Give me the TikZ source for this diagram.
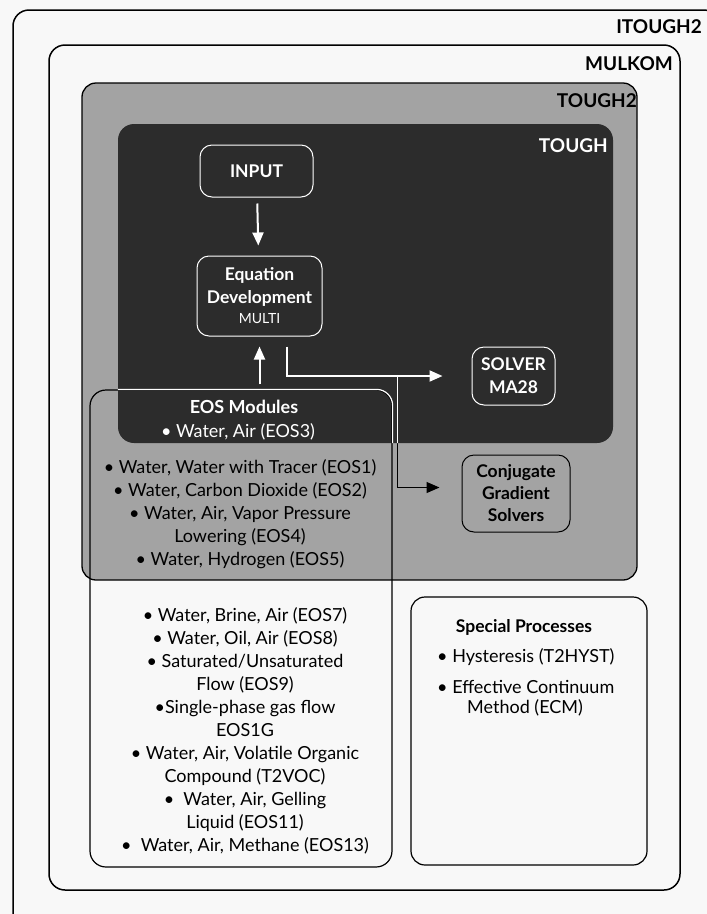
\documentclass[tikz,border=0pt]{standalone}
\usepackage{fontspec}
\setmainfont{Lato}
\usetikzlibrary{arrows.meta,calc}
\definecolor{bg}{HTML}{F8F8F8}
\definecolor{midgray}{HTML}{A3A3A3}
\definecolor{darkfill}{HTML}{2C2C2C}
\begin{document}
\begin{tikzpicture}[x=1pt,y=-1pt,
  frame/.style={draw=black, line width=1.5pt, rounded corners=16pt, inner sep=0pt},
  wbox/.style={draw=white, line width=1pt, rounded corners=12pt, text=white, align=center, inner sep=0pt, font=\fontsize{17.5}{23}\selectfont\bfseries},
  bbox/.style={draw=black, line width=1pt, rounded corners=12pt, text=black, align=center, inner sep=0pt, font=\fontsize{17.5}{23}\selectfont\bfseries},
  title/.style={font=\fontsize{19}{22}\selectfont\bfseries, inner sep=0pt, anchor=east},
  listtxt/.style={font=\fontsize{18}{23}\selectfont, align=center, inner sep=0pt},
  warrow/.style={draw=white, line width=2pt, -{Triangle[width=11pt,length=13pt]}},
  barrow/.style={draw=black, line width=1.2pt, -{Triangle[width=11pt,length=13pt]}}
]
\useasboundingbox (0,0) rectangle (707,914);
\fill[bg] (0,0) rectangle (707,914);

% containers
\node[frame, minimum width=707pt, minimum height=920pt] (itough) at (366.5,470) {};
\node[frame, minimum width=631pt, minimum height=845pt] (mulkom) at (364.5,467.5) {};
\node[frame, fill=midgray, line width=1.3pt, rounded corners=14pt, minimum width=555pt, minimum height=497pt] (tough2) at (359.5,331.5) {};
\node[draw=none, fill=darkfill, rounded corners=16pt, minimum width=495pt, minimum height=319pt, inner sep=0pt] (tough) at (365.5,283.5) {};

\node[title] at (702,27) {ITOUGH2};
\node[title] at (673,64) {MULKOM};
\node[title] at (637,101) {TOUGH2};
\node[title, text=white] at (608,146) {TOUGH};

% EOS modules box
\node[draw=black, line width=1.2pt, rounded corners=16pt, minimum width=302pt, minimum height=477pt, inner sep=0pt] (eos) at (241,628.5) {};

% inner boxes
\node[wbox, minimum width=113pt, minimum height=52pt] (input) at (256.5,171) {INPUT};
\node[wbox, minimum width=125pt, minimum height=80pt] (eqdev) at (259.5,296) {Equation\\Development\\[-3pt]{\fontsize{14}{16}\selectfont\mdseries MULTI}};
\node[wbox, minimum width=83pt, minimum height=58pt] (solver) at (513.5,376) {SOLVER\\MA28};
\node[bbox, minimum width=108pt, minimum height=77pt, font=\fontsize{17.5}{22}\selectfont\bfseries] (cgs) at (516,493.5) {Conjugate\\Gradient\\Solvers};
\node[draw=black, line width=1.2pt, rounded corners=14pt, minimum width=236pt, minimum height=268pt, inner sep=0pt] (special) at (529,731) {};

% connectors
\draw[warrow, shorten <=6pt, shorten >=10pt] (input) -- (eqdev);
\draw[warrow, shorten <=5pt, shorten >=10pt] (eqdev.south |- eos.north) -- (eqdev.south);
\draw[warrow] ([xshift=27pt,yshift=-10pt]eqdev.south) |- ([xshift=-29pt]solver.west);
\coordinate (split) at ([xshift=-74pt]solver.west);
\draw[barrow] (split) |- ([xshift=-22pt,yshift=6pt]cgs.west);

% white parts of lines inside the TOUGH box
\begin{scope}
  \clip[rounded corners=16pt] (tough.north west) rectangle (tough.south east);
  \draw[white, line width=1.2pt, rounded corners=16pt] (eos.north west) rectangle (eos.south east);
  \draw[white, line width=1.2pt] (split) -- ++(0,80);
\end{scope}

% texts
\node[font=\fontsize{18}{22}\selectfont\bfseries, text=white, inner sep=0pt] (eoshead) at (244,407) {EOS Modules};
\node[listtxt, text=white] (eos3) at (238,432) {• Water, Air (EOS3)};
\node[listtxt] (eosgray) at (240,514) {• Water, Water with Tracer (EOS1)\\• Water, Carbon Dioxide (EOS2)\\• Water, Air, Vapor Pressure\\Lowering (EOS4)\\• Water, Hydrogen (EOS5)};
\node[listtxt] (eoswhite) at (245,730.5) {• Water, Brine, Air (EOS7)\\• Water, Oil, Air (EOS8)\\• Saturated/Unsaturated\\Flow (EOS9)\\•Single-phase gas flow\\EOS1G\\• Water, Air, Volatile Organic\\Compound (T2VOC)\\•~ Water, Air, Gelling\\Liquid (EOS11)\\•~ Water, Air, Methane (EOS13)};

\node[font=\fontsize{17.5}{20}\selectfont\bfseries, inner sep=0pt] (sphead) at (524,627) {Special Processes};
\node[listtxt, anchor=west] (sp1) at (437,657) {• Hysteresis (T2HYST)};
\node[listtxt, anchor=west] (sp2) at (437,687) {• Effective Continuum};
\node[listtxt, anchor=west] (sp3) at (467,708) {Method (ECM)};
\end{tikzpicture}
\end{document}
